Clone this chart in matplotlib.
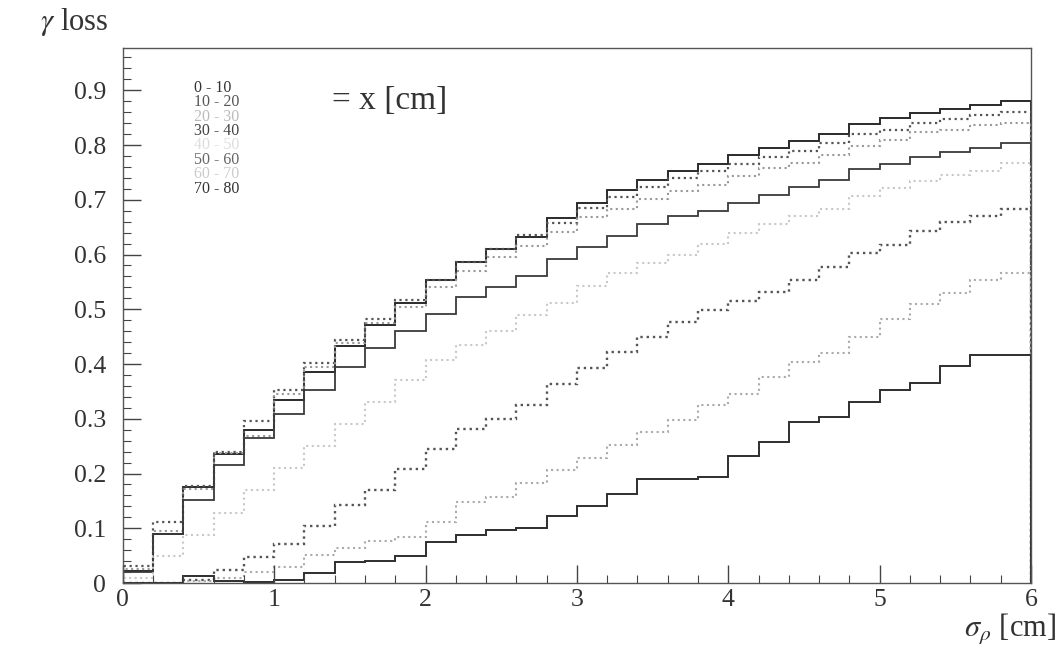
import numpy as np
import matplotlib
matplotlib.use("Agg")
import matplotlib.pyplot as plt
from matplotlib.ticker import MultipleLocator

plt.rcParams["font.family"] = ["Liberation Serif", "DejaVu Serif"]
plt.rcParams["mathtext.fontset"] = "stix"

# bin edges of sigma_rho [cm], 30 bins of 0.2
bin_edges = np.round(np.arange(0, 6.01, 0.2), 1)

# gamma loss per bin, one list per x range [cm]
loss_0_10 = [0.022, 0.089, 0.175, 0.236, 0.279, 0.334, 0.386, 0.433, 0.472, 0.512,
             0.553, 0.586, 0.610, 0.632, 0.666, 0.695, 0.717, 0.737, 0.752, 0.766,
             0.781, 0.794, 0.807, 0.821, 0.838, 0.849, 0.858, 0.865, 0.874, 0.880]
loss_10_20 = [0.031, 0.112, 0.178, 0.240, 0.296, 0.352, 0.401, 0.443, 0.482, 0.517,
              0.553, 0.586, 0.610, 0.635, 0.658, 0.685, 0.705, 0.723, 0.740, 0.752,
              0.766, 0.778, 0.789, 0.803, 0.821, 0.828, 0.841, 0.847, 0.854, 0.860]
loss_20_30 = [0.026, 0.095, 0.172, 0.238, 0.268, 0.345, 0.395, 0.438, 0.475, 0.504,
              0.541, 0.570, 0.595, 0.615, 0.641, 0.668, 0.684, 0.701, 0.716, 0.727,
              0.743, 0.758, 0.767, 0.781, 0.798, 0.810, 0.824, 0.827, 0.836, 0.841]
loss_30_40 = [0.020, 0.090, 0.152, 0.215, 0.265, 0.308, 0.352, 0.394, 0.429, 0.460,
              0.491, 0.522, 0.540, 0.560, 0.591, 0.613, 0.633, 0.655, 0.670, 0.679,
              0.694, 0.708, 0.723, 0.737, 0.756, 0.766, 0.779, 0.788, 0.794, 0.803]
loss_40_50 = [0.010, 0.050, 0.087, 0.127, 0.170, 0.210, 0.250, 0.290, 0.330, 0.370,
              0.407, 0.434, 0.460, 0.489, 0.511, 0.542, 0.566, 0.584, 0.600, 0.619,
              0.639, 0.655, 0.670, 0.684, 0.706, 0.721, 0.735, 0.745, 0.752, 0.767]
loss_50_60 = [0.000, 0.000, 0.005, 0.024, 0.048, 0.071, 0.104, 0.142, 0.170, 0.208,
              0.245, 0.281, 0.300, 0.326, 0.363, 0.392, 0.422, 0.449, 0.476, 0.498,
              0.515, 0.531, 0.553, 0.577, 0.602, 0.617, 0.643, 0.659, 0.670, 0.683]
loss_60_70 = [0.000, 0.000, 0.003, 0.010, 0.020, 0.030, 0.051, 0.064, 0.077, 0.084,
              0.111, 0.148, 0.157, 0.183, 0.206, 0.228, 0.252, 0.276, 0.298, 0.325,
              0.345, 0.376, 0.404, 0.420, 0.450, 0.482, 0.509, 0.530, 0.553, 0.566]
loss_70_80 = [0.000, 0.000, 0.013, 0.003, 0.002, 0.005, 0.018, 0.038, 0.040, 0.050,
              0.075, 0.087, 0.097, 0.100, 0.123, 0.140, 0.162, 0.190, 0.190, 0.194,
              0.232, 0.257, 0.294, 0.303, 0.330, 0.352, 0.365, 0.396, 0.416, 0.416]

labels = ["0 - 10", "10 - 20", "20 - 30", "30 - 40", "40 - 50", "50 - 60", "60 - 70", "70 - 80"]
series = [loss_0_10, loss_10_20, loss_20_30, loss_30_40, loss_40_50, loss_50_60, loss_60_70, loss_70_80]

line_colors = ["#2a2a2a", "#555555", "#999999", "#3a3a3a", "#c8c8c8", "#555555", "#aaaaaa", "#2e2e2e"]
line_styles = ["-", ":", ":", "-", ":", ":", ":", "-"]
line_widths = [1.4, 1.6, 1.5, 1.3, 1.5, 1.7, 1.5, 1.4]
label_colors = ["#333333", "#555555", "#bbbbbb", "#444444", "#dddddd", "#666666", "#cccccc", "#333333"]

fig = plt.figure(figsize=(10.59, 6.46), dpi=100)
ax = fig.add_axes([0.116, 0.0975, 0.8575, 0.828])

for vals, c, ls, lw in zip(series, line_colors, line_styles, line_widths):
    ax.stairs(vals, bin_edges, baseline=0, color=c, linestyle=ls, linewidth=lw)

ax.set_xlim(0, 6)
ax.set_ylim(0, 0.977)

ax.xaxis.set_major_locator(MultipleLocator(1))
ax.xaxis.set_minor_locator(MultipleLocator(0.2))
ax.yaxis.set_major_locator(MultipleLocator(0.1))
ax.yaxis.set_minor_locator(MultipleLocator(0.02))
ax.tick_params(which="both", direction="in", top=False, right=False, colors="#444444",
               labelcolor="#333333", labelsize=18.5)
ax.tick_params(which="major", length=13, width=1.0)
ax.tick_params(which="minor", length=6, width=0.8)
ax.tick_params(axis="x", which="major", pad=4)
ax.tick_params(axis="y", which="major", pad=12)
ax.set_yticks(np.round(np.arange(0, 0.91, 0.1), 1))
ax.set_yticklabels(["0"] + [f"{v:.1f}" for v in np.arange(0.1, 0.91, 0.1)])
for sp in ax.spines.values():
    sp.set_color("#555555")
    sp.set_linewidth(1.0)

# legend as coloured text
for i, (lab, c) in enumerate(zip(labels, label_colors)):
    ax.text(0.47, 0.904 - i * 0.0262, lab, color=c, fontsize=11.5, va="center", ha="left")
ax.text(1.38, 0.88, "= x [cm]", fontsize=24, color="#333333", va="center", ha="left")

fig.text(0.038, 0.966, r"$\gamma$ loss", fontsize=22, color="#333333", va="center", ha="left")
fig.text(0.9975, 0.026, r"$\sigma_\rho$ [cm]", fontsize=22, color="#333333", va="center", ha="right")

fig.savefig("out.png", dpi=100)
